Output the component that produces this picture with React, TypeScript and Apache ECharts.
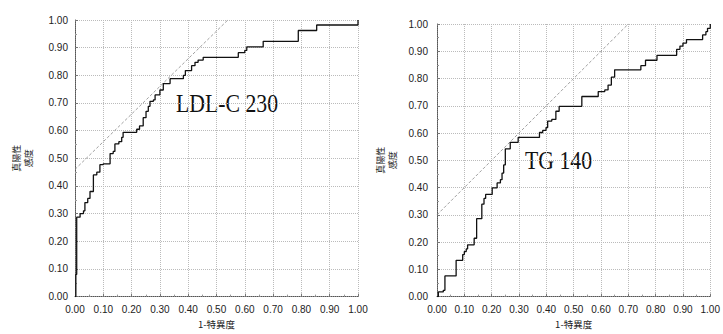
import React, { useEffect, useRef } from "react";
import * as echarts from "echarts";

// LDL-C 230 ROC curve vertices (1-specificity, sensitivity)
const ldlFpr = [0, 0.003, 0.006, 0.018, 0.03, 0.035, 0.045, 0.053, 0.065, 0.077, 0.088, 0.1, 0.124, 0.135, 0.141, 0.155, 0.165, 0.17, 0.218, 0.228, 0.241, 0.251, 0.259, 0.265, 0.277, 0.283, 0.3, 0.312, 0.336, 0.383, 0.39, 0.412, 0.424, 0.435, 0.453, 0.577, 0.6, 0.607, 0.665, 0.789, 0.854, 1.0, 1.0];
const ldlTpr = [0, 0.08, 0.287, 0.3, 0.31, 0.34, 0.355, 0.38, 0.44, 0.45, 0.477, 0.48, 0.517, 0.525, 0.552, 0.56, 0.576, 0.594, 0.605, 0.617, 0.647, 0.67, 0.688, 0.706, 0.711, 0.729, 0.747, 0.77, 0.788, 0.8, 0.817, 0.835, 0.847, 0.855, 0.865, 0.882, 0.89, 0.903, 0.923, 0.962, 0.982, 0.99, 1.0];

// TG 140 ROC curve vertices
const tgFpr = [0, 0.005, 0.023, 0.029, 0.07, 0.094, 0.1, 0.107, 0.112, 0.136, 0.145, 0.164, 0.172, 0.178, 0.202, 0.22, 0.232, 0.238, 0.244, 0.25, 0.268, 0.297, 0.375, 0.387, 0.399, 0.405, 0.42, 0.435, 0.447, 0.53, 0.59, 0.614, 0.626, 0.638, 0.65, 0.746, 0.763, 0.805, 0.877, 0.889, 0.9, 0.913, 0.972, 0.984, 0.99, 1.0];
const tgTpr = [0, 0.017, 0.023, 0.076, 0.133, 0.154, 0.165, 0.175, 0.19, 0.214, 0.286, 0.339, 0.36, 0.375, 0.399, 0.417, 0.429, 0.453, 0.483, 0.542, 0.566, 0.584, 0.602, 0.61, 0.62, 0.644, 0.65, 0.68, 0.698, 0.734, 0.752, 0.758, 0.776, 0.805, 0.832, 0.847, 0.867, 0.885, 0.907, 0.919, 0.93, 0.943, 0.96, 0.972, 0.984, 1.0];

// Tangent (slope 1) reference lines
const ldlRefX = [0, 0.54];
const ldlRefY = [0.46, 1.0];
const tgRefX = [0, 0.7];
const tgRefY = [0.3, 1.0];

const labels = ["LDL-C 230", "TG 140"];
const xTitle = "1-特異度";
const yTitle = "真陽性\n感度";

const zip = (a: number[], b: number[]) => a.map((v, i) => [v, b[i]]);

export default function App() {
  const ref = useRef<HTMLDivElement>(null);
  useEffect(() => {
    const chart = echarts.init(ref.current!, null, { renderer: "svg" });
    const tickFont = { fontFamily: "Liberation Sans", fontSize: 10, color: "#222" };
    const mkX = (gi: number) => ({
      type: "value",
      gridIndex: gi,
      min: 0,
      max: 1,
      interval: 0.1,
      name: xTitle,
      nameLocation: "middle",
      nameGap: 21,
      nameTextStyle: { fontFamily: "Noto Sans CJK JP", fontSize: 9.5, color: "#222" },
      axisLabel: { ...tickFont, margin: 8, formatter: (v: number) => v.toFixed(2) },
      axisLine: { show: true, lineStyle: { color: "#555", type: "dotted", width: 1 } },
      axisTick: { show: true, inside: true, length: 3, lineStyle: { color: "#777" } },
      minorTick: { show: true, splitNumber: 2, length: 2, lineStyle: { color: "#999" } },
      splitLine: { show: true, lineStyle: { color: "#bbb", type: "dotted", width: 1 } },
    });
    const mkY = (gi: number, gap: number, lm: number) => ({
      type: "value",
      gridIndex: gi,
      min: 0,
      max: 1,
      interval: 0.1,
      name: yTitle,
      nameLocation: "middle",
      nameRotate: 90,
      nameGap: gap,
      nameTextStyle: { fontFamily: "Noto Sans CJK JP", fontSize: 9, lineHeight: 12, color: "#222" },
      axisLabel: { ...tickFont, margin: lm, formatter: (v: number) => v.toFixed(2) },
      axisLine: { show: true, lineStyle: { color: "#555", type: "dotted", width: 1 } },
      axisTick: { show: true, inside: true, length: 3, lineStyle: { color: "#777" } },
      minorTick: { show: true, splitNumber: 2, length: 2, lineStyle: { color: "#999" } },
      splitLine: { show: true, lineStyle: { color: "#bbb", type: "dotted", width: 1 } },
    });
    const roc = (x: number[], y: number[], gi: number) => ({
      type: "line",
      xAxisIndex: gi,
      yAxisIndex: gi,
      data: zip(x, y),
      step: "end",
      showSymbol: false,
      lineStyle: { color: "#111", width: 1.3 },
      z: 3,
    });
    const refLine = (x: number[], y: number[], gi: number) => ({
      type: "line",
      xAxisIndex: gi,
      yAxisIndex: gi,
      data: zip(x, y),
      showSymbol: false,
      lineStyle: { color: "#888", width: 0.8, type: [3, 2] },
      z: 2,
    });
    chart.setOption({
      animation: false,
      backgroundColor: "#fff",
      grid: [
        { left: 75, top: 20, width: 283, height: 283 },
        { left: 437, top: 24, width: 279, height: 279 },
      ],
      xAxis: [mkX(0), mkX(1)],
      yAxis: [mkY(0, 41, 7), mkY(1, 39, 9)],
      series: [
        refLine(ldlRefX, ldlRefY, 0),
        roc(ldlFpr, ldlTpr, 0),
        refLine(tgRefX, tgRefY, 1),
        roc(tgFpr, tgTpr, 1),
      ],
      graphic: [
        {
          type: "text",
          x: 176,
          y: 91,
          scaleX: 0.87,
          style: { text: labels[0], font: "25px 'Liberation Serif'", fill: "#111" },
        },
        {
          type: "text",
          x: 525,
          y: 148,
          scaleX: 0.87,
          style: { text: labels[1], font: "25px 'Liberation Serif'", fill: "#111" },
        },
      ],
    });
    return () => chart.dispose();
  }, []);
  return (
    <div
      ref={ref}
      style={{ position: "fixed", left: 0, top: 0, width: 723, height: 334, background: "#fff" }}
    />
  );
}
